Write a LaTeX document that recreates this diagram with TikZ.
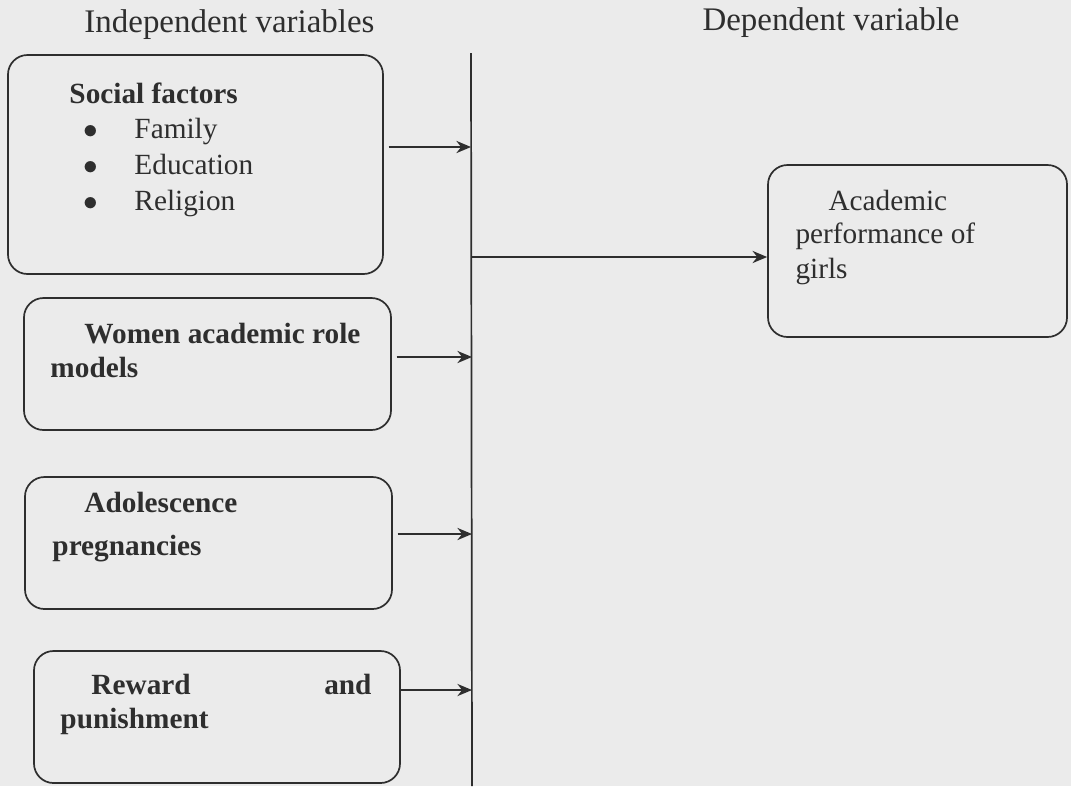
\documentclass[tikz,border=0pt]{standalone}
\usepackage{fontspec}
\setmainfont{Liberation Serif}
\usepackage{tikz}
\usetikzlibrary{arrows.meta, calc}

\newcommand{\pxu}{0.0144cm}
\definecolor{scanbg}{gray}{0.92}
\definecolor{ink}{gray}{0.18}

\begin{document}
\begin{tikzpicture}
        [
          x=\pxu, y=-\pxu,
          label/.style={anchor=base west, inner sep=0pt, text=ink,
            font=\fontsize{12}{14}\selectfont},
          head/.style={label, font=\fontsize{13.5}{16}\selectfont},
          factor/.style={label, font=\fontsize{12}{14}\selectfont\bfseries},
          box/.style={draw=ink, line width=0.7pt, rounded corners=8pt,
            inner sep=0pt},
          arr/.style={draw=ink, line width=0.7pt,
            -{Stealth[length=6pt,width=5pt]}}
        ]
        % page
        \fill [scanbg] (0,0) rectangle (1071,786);
        \useasboundingbox (0,0) rectangle (1071,786);
        % headings
        \node [head] (hind) at (84,32) {Independent variables};
        \node [head] (hdep) at (702,30) {Dependent variable};
        % boxes
        \node [box, minimum width=375*\pxu, minimum height=219*\pxu] (social) at (195.5,164.5) {};
        \node [box, minimum width=367*\pxu, minimum height=132*\pxu] (women) at (207.5,364) {};
        \node [box, minimum width=367*\pxu, minimum height=132*\pxu] (adol) at (208.5,543) {};
        \node [box, minimum width=366*\pxu, minimum height=132*\pxu] (reward) at (217,717) {};
        \node [box, minimum width=299*\pxu, minimum height=172*\pxu] (perf) at (917.5,251) {};
        % social factors
        \node [factor] (soc) at (69,103) {Social factors};
        \foreach \n/\y/\t in {fam/138/Family,edu/174/Education,rel/210/Religion} {
            \node [label, anchor=base] (b\n) at (91,\y) {$\bullet$};
            \node [label] (\n) at (134,\y) {\t};
        }
        % other factors
        \node [factor] (wom1) at (84,343) {Women academic role};
        \node [factor] (wom2) at (50,377) {models};
        \node [factor] (ado1) at (84,512) {Adolescence};
        \node [factor] (ado2) at (52,555) {pregnancies};
        \node [factor] (rew1) at (91,694) {Reward};
        \node [factor, anchor=base east] (rew2) at (372,694) {and};
        \node [factor] (rew3) at (60,728) {punishment};
        % outcome
        \node [label] (acad1) at (828,210) {Academic};
        \node [label] (acad2) at (795,243) {performance of};
        \node [label] (acad3) at (795,278) {girls};
        % bar and arrows
        \coordinate (bartop) at (471,53);
        \coordinate (barbot) at (472,786);
        \draw [ink, line width=0.7pt] (bartop) -- (barbot);
        \coordinate (in1) at (471,147);
        \coordinate (in2) at (472,357);
        \coordinate (in3) at (472,534);
        \coordinate (in4) at (472,690);
        \coordinate (out) at (471,257);
        \draw [arr, shorten <=2pt] (social.east |- in1) -- (in1);
        \draw [arr, shorten <=2pt] (women.east |- in2) -- (in2);
        \draw [arr, shorten <=2pt] (adol.east |- in3) -- (in3);
        \draw [arr, shorten <=0pt] (reward.east |- in4) -- (in4);
        \draw [arr] (out) -- (perf.west |- out);
      \end{tikzpicture}
\end{document}
